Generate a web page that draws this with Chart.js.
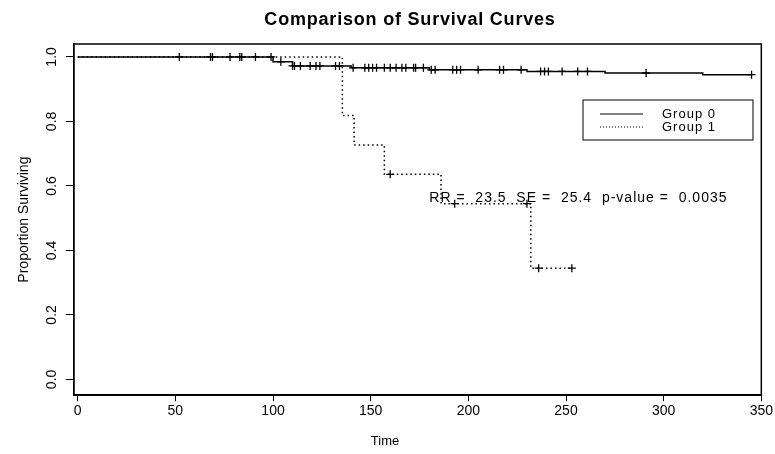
<!DOCTYPE html>
<html>
<head>
<meta charset="utf-8">
<script src="https://cdn.jsdelivr.net/npm/chart.js@4.4.1/dist/chart.umd.min.js"></script>
<style>
  html, body { margin: 0; padding: 0; background: #fff; }
  #wrap { width: 775px; height: 454px; position: relative; }
</style>
</head>
<body>
<div id="wrap"><canvas id="chart"></canvas></div>
<script>
  // Group 0: Kaplan-Meier step points (time, proportion surviving)
  var g0Times = [0, 100, 110, 140, 180, 230, 270, 320];
  var g0Surv  = [1.0, 0.985, 0.972, 0.966, 0.960, 0.955, 0.950, 0.945];
  var g0End = 345;
  var g0Censor = [52, 68, 69, 78, 83, 84, 91, 99, 104, 110, 111, 114, 119, 122, 124, 132, 134,
                  141, 147, 149, 151, 153, 157, 160, 163, 166, 168, 172, 173, 177, 181, 183,
                  192, 194, 196, 205, 216, 218, 227, 237, 239, 241, 248, 256, 261, 291, 345];

  // Group 1
  var g1Times = [0, 135.5, 141.5, 157, 186, 232];
  var g1Surv  = [1.0, 0.818, 0.727, 0.636, 0.545, 0.345];
  var g1End = 253;
  var g1Censor = [160, 193, 230, 236, 253];

  var xTicks = [0, 50, 100, 150, 200, 250, 300, 350];
  var yTicks = [0.0, 0.2, 0.4, 0.6, 0.8, 1.0];
  var yTickLabels = ['0.0', '0.2', '0.4', '0.6', '0.8', '1.0'];

  var FONT = 'Arial, "Liberation Sans", Helvetica, sans-serif';

  function stepAt(times, surv, t) {
    var s = surv[0];
    for (var i = 0; i < times.length; i++) { if (times[i] <= t) s = surv[i]; }
    return s;
  }
  function curve(times, surv, end) {
    var pts = times.map(function (t, i) { return { x: t, y: surv[i] }; });
    pts.push({ x: end, y: surv[surv.length - 1] });
    return pts;
  }
  function marks(times, surv, cens) {
    return cens.map(function (t) { return { x: t, y: stepAt(times, surv, t) }; });
  }

  var extras = {
    id: 'extras',
    afterDraw: function (chart) {
      var ctx = chart.ctx, a = chart.chartArea;
      var xs = chart.scales.x, ys = chart.scales.y;
      ctx.save();
      // frame
      ctx.strokeStyle = '#000';
      ctx.lineWidth = 1.5;
      ctx.strokeRect(a.left, a.top, a.right - a.left, a.bottom - a.top);

      ctx.fillStyle = '#000';
      // y tick labels, rotated
      ctx.font = '14px ' + FONT;
      ctx.textAlign = 'center';
      ctx.textBaseline = 'middle';
      yTicks.forEach(function (v, i) {
        ctx.save();
        ctx.translate(52, ys.getPixelForValue(v));
        ctx.rotate(-Math.PI / 2);
        ctx.fillText(yTickLabels[i], 0, 0);
        ctx.restore();
      });

      // x axis title
      ctx.font = '13px ' + FONT;
      ctx.fillText('Time', 385, 441);

      // title
      ctx.font = 'bold 18px ' + FONT;
      ctx.letterSpacing = '0.8px';
      ctx.fillText('Comparison of Survival Curves', 410, 20);

      // annotation
      ctx.font = '14px ' + FONT;
      ctx.letterSpacing = '1px';
      ctx.textAlign = 'left';
      ctx.fillText('RR =  23.5  SE =  25.4  p-value =  0.0035',
        xs.getPixelForValue(180), ys.getPixelForValue(0.562));

      // legend
      ctx.lineWidth = 1;
      ctx.strokeRect(583, 100, 170, 40);
      ctx.beginPath();
      ctx.moveTo(600, 114); ctx.lineTo(643, 114);
      ctx.stroke();
      ctx.setLineDash([1, 2]);
      ctx.beginPath();
      ctx.moveTo(600, 127); ctx.lineTo(643, 127);
      ctx.stroke();
      ctx.setLineDash([]);
      ctx.font = '13px ' + FONT;
      ctx.fillText('Group 0', 662, 114);
      ctx.fillText('Group 1', 662, 127);
      ctx.restore();
    }
  };

  new Chart(document.getElementById('chart'), {
    type: 'scatter',
    data: {
      datasets: [
        {
          label: 'Group 0',
          data: curve(g0Times, g0Surv, g0End),
          showLine: true,
          stepped: 'before',
          borderColor: '#000',
          borderWidth: 1.5,
          pointRadius: 0
        },
        {
          label: 'Group 1',
          data: curve(g1Times, g1Surv, g1End),
          showLine: true,
          stepped: 'before',
          borderColor: '#000',
          borderWidth: 1.5,
          borderDash: [1.5, 3],
          pointRadius: 0
        },
        {
          label: 'Group 0 censored',
          data: marks(g0Times, g0Surv, g0Censor),
          pointStyle: 'cross',
          pointRadius: 4,
          borderColor: '#000',
          borderWidth: 1.3
        },
        {
          label: 'Group 1 censored',
          data: marks(g1Times, g1Surv, g1Censor),
          pointStyle: 'cross',
          pointRadius: 4,
          borderColor: '#000',
          borderWidth: 1.3
        }
      ]
    },
    options: {
      responsive: true,
      maintainAspectRatio: false,
      animation: false,
      layout: { padding: { left: 12, right: 13, top: 44, bottom: 32 } },
      plugins: {
        legend: { display: false },
        title: { display: false },
        tooltip: { enabled: false }
      },
      scales: {
        x: {
          type: 'linear',
          min: -2,
          max: 350,
          afterBuildTicks: function (s) { s.ticks = xTicks.map(function (v) { return { value: v }; }); },
          grid: { drawOnChartArea: false, drawTicks: true, tickLength: 6, color: '#000' },
          border: { color: '#000', width: 1.5 },
          ticks: { color: '#000', padding: 2, font: { family: FONT, size: 14 } },
          title: { display: false }
        },
        y: {
          type: 'linear',
          min: -0.049,
          max: 1.04,
          afterBuildTicks: function (s) { s.ticks = yTicks.map(function (v) { return { value: v }; }); },
          grid: { drawOnChartArea: false, drawTicks: true, tickLength: 8, color: '#000' },
          border: { color: '#000', width: 1.5 },
          ticks: { display: false },
          title: { display: true, text: 'Proportion Surviving', color: '#000', font: { family: FONT, size: 14 },
                   padding: { top: 4, bottom: 33 } }
        }
      }
    },
    plugins: [extras]
  });
</script>
</body>
</html>
